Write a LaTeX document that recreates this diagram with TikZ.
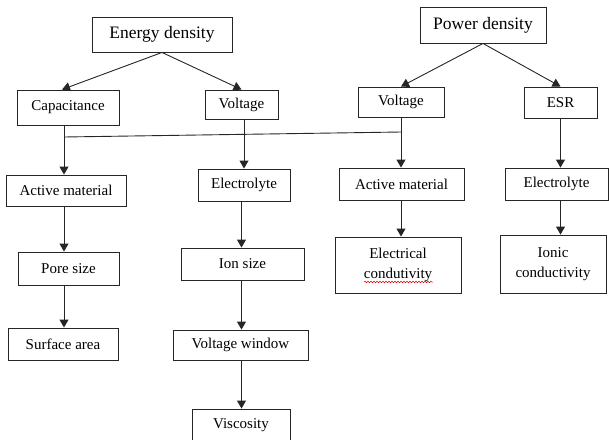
\documentclass[tikz,border=0pt]{standalone}
\usepackage{fontspec}
\setmainfont{Liberation Serif}
\usetikzlibrary{arrows.meta,decorations.pathmorphing}
\begin{document}
\begin{tikzpicture}[x=1pt,y=-1pt,
  box/.style={draw=black!85,line width=0.9pt,inner sep=0pt,align=center,
    font=\fontsize{15}{20}\selectfont},
  bigbox/.style={box,font=\fontsize{17.5}{21}\selectfont},
  arr/.style={draw=black!85,line width=0.9pt,-{Triangle[length=8pt,width=9pt]}},
  ln/.style={draw=black!85,line width=0.9pt}]
\useasboundingbox (0,0) rectangle (609,439);
\node[bigbox,minimum width=140pt,minimum height=35pt] (energy) at (162,34.5) {Energy density};
\node[bigbox,minimum width=126pt,minimum height=36pt] (power) at (483,25) {Power density};
\node[box,minimum width=102pt,minimum height=35pt] (cap) at (68,107.5) {Capacitance};
\node[box,minimum width=73pt,minimum height=29pt] (voltl) at (241.5,104.5) {Voltage};
\node[box,minimum width=86pt,minimum height=30pt] (voltr) at (401,102) {Voltage};
\node[box,minimum width=73pt,minimum height=31pt] (esr) at (560.5,102.5) {ESR};
\node[box,minimum width=120pt,minimum height=31pt] (actl) at (66,190.5) {Active material};
\node[box,minimum width=92pt,minimum height=32pt] (elecl) at (244,185) {Electrolyte};
\node[box,minimum width=125pt,minimum height=32pt] (actr) at (401.5,184) {Active material};
\node[box,minimum width=103pt,minimum height=32pt] (elecr) at (556.5,184) {Electrolyte};
\node[box,minimum width=101pt,minimum height=33pt] (pore) at (68.5,268.5) {Pore size};
\node[box,minimum width=123pt,minimum height=32pt] (ion) at (242.5,264) {Ion size};
\node[box,minimum width=126pt,minimum height=56pt] (econd) at (398,265) {Electrical\\condutivity};
\node[box,minimum width=106pt,minimum height=58pt] (icond) at (553,264) {Ionic\\conductivity};
\node[box,minimum width=110pt,minimum height=32pt] (surf) at (63,344) {Surface area};
\node[box,minimum width=135pt,minimum height=30pt] (vwin) at (240.5,345) {Voltage window};
\node[box,minimum width=98pt,minimum height=36pt] (visc) at (241,427) {};
\node[font=\fontsize{15}{20}\selectfont] (visctext) at (241,425) {Viscosity};
% squiggle under condutivity
\coordinate (sq1) at (364,282);
\coordinate (sq2) at (433,282);
\draw[red!85!black,line width=0.5pt,decorate,decoration={snake,amplitude=0.8pt,segment length=3pt}]
  (sq1) -- (sq2);
% top arrows
\draw[arr] (energy.south) -- ([xshift=-6pt]cap.north);
\draw[arr] (energy.south) -- (voltl.north);
\draw[arr] (power.south) -- (voltr.north);
\draw[arr] (power.south) -- (esr.north);
% junction line
\coordinate (j1) at (64,137);
\coordinate (j2) at (401,132);
\draw[ln] (j1) -- (j2);
\draw[arr] ([xshift=-4pt]cap.south) -- (cap.south -| j1) -- (actl.north -| j1);
\draw[arr] (voltl.south -| elecl.north) -- (elecl.north);
\draw[arr] (voltr.south) -- (actr.north -| voltr.south);
\draw[arr] (esr.south) -- (elecr.north -| esr.south);
% lower arrows
\draw[arr] (actl.south -| j1) -- (pore.north -| j1);
\draw[arr] (pore.south -| j1) -- (surf.north -| j1);
\draw[arr] (elecl.south -| voltl.south) -- (ion.north -| voltl.south);
\draw[arr] (ion.south -| voltl.south) -- (vwin.north -| voltl.south);
\draw[arr] (vwin.south -| voltl.south) -- (visc.north -| voltl.south);
\draw[arr] (actr.south -| voltr.south) -- (econd.north -| voltr.south);
\draw[arr] (elecr.south -| esr.south) -- (icond.north -| esr.south);
\end{tikzpicture}
\end{document}
